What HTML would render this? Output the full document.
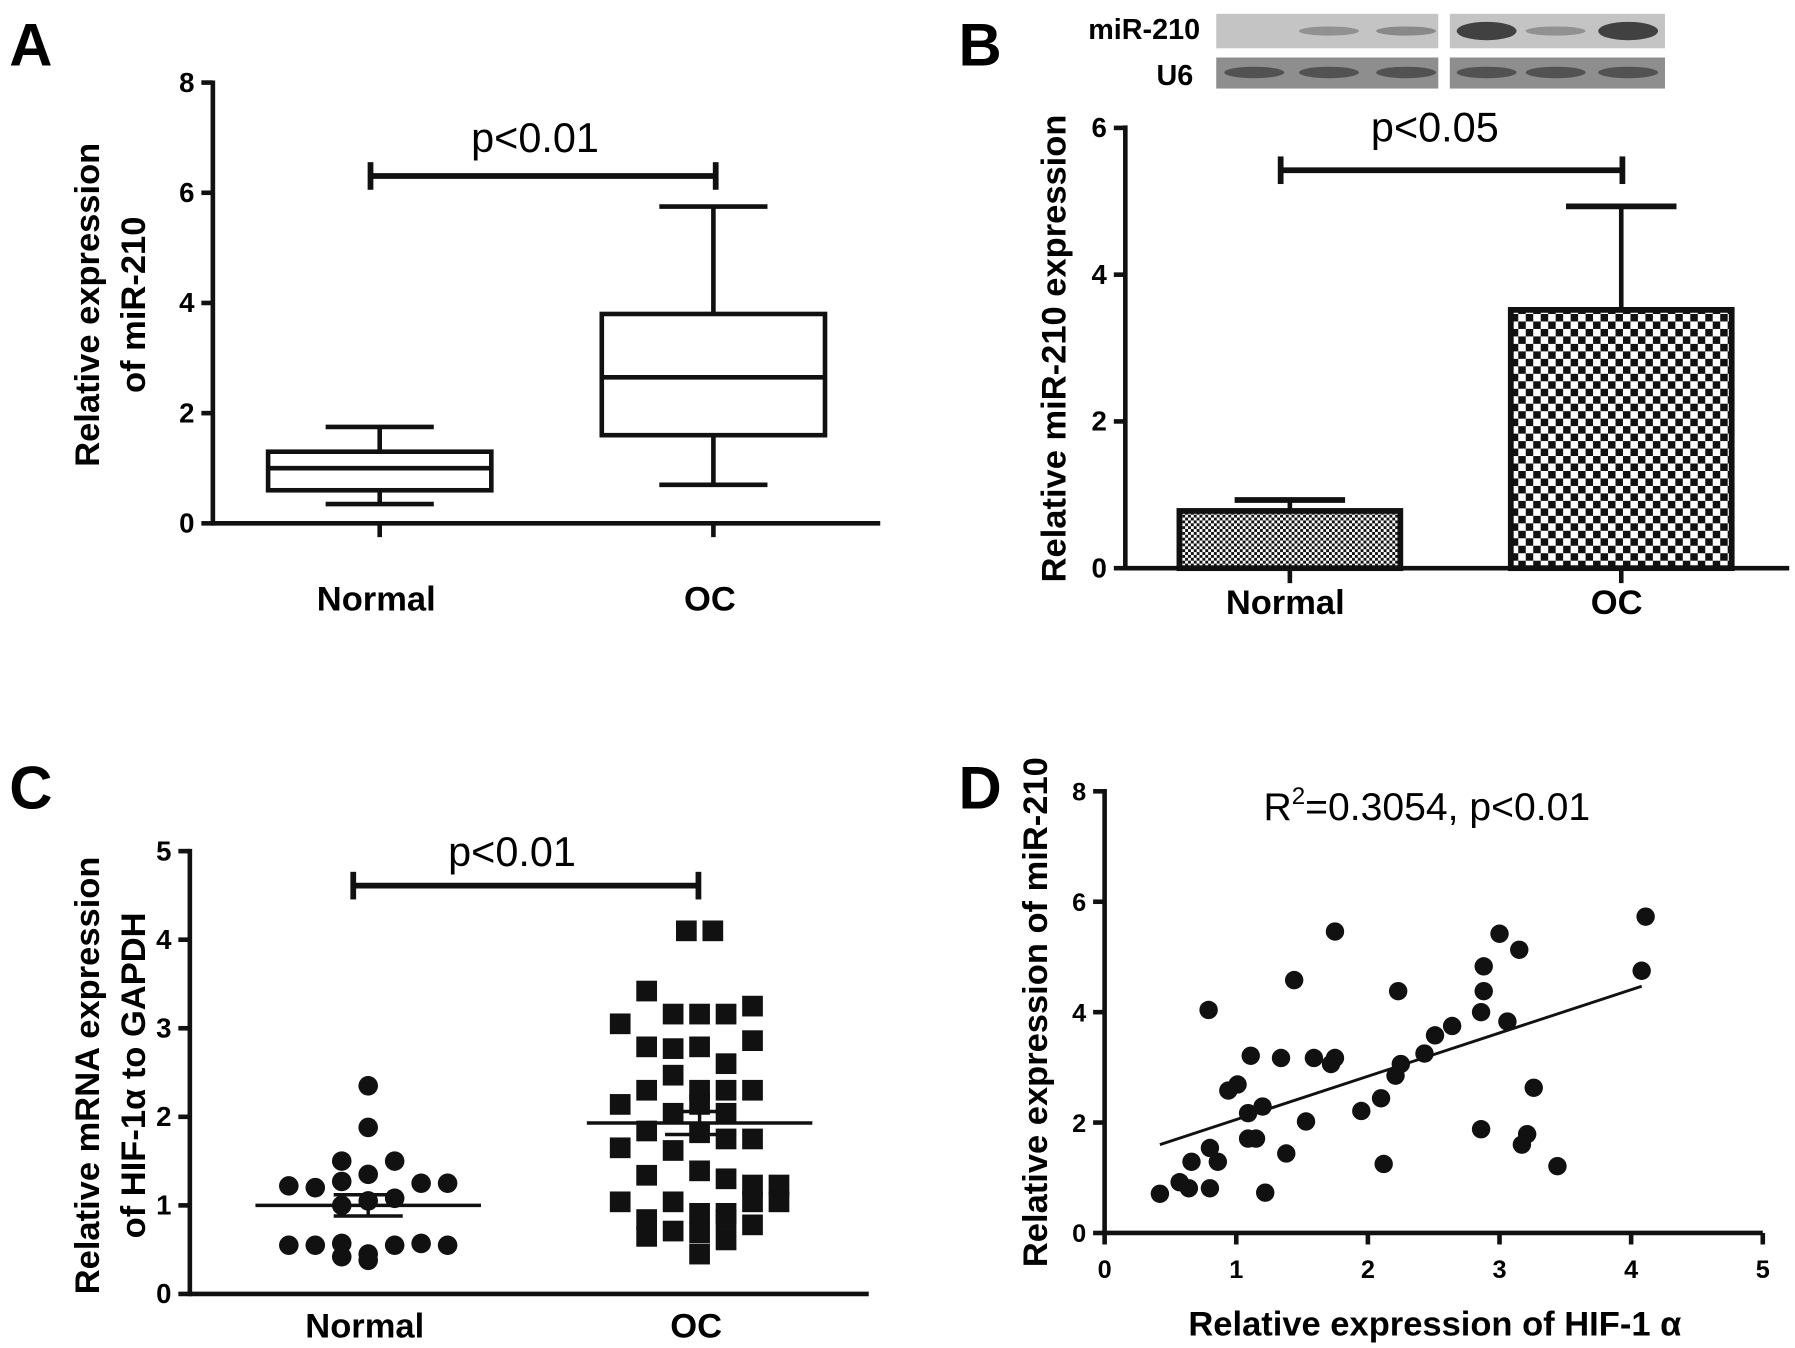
<!DOCTYPE html>
<html><head><meta charset="utf-8"><style>
html,body{margin:0;padding:0;background:#fff;}
svg{display:block;}
text{font-family:"Liberation Sans",Arial,sans-serif;}
.b{font-weight:bold;}
</style></head><body>
<svg id="fig" width="1795" height="1348" viewBox="0 0 1560 1172" preserveAspectRatio="none" xmlns="http://www.w3.org/2000/svg">
<defs>
<pattern id="fine" width="5" height="5" patternUnits="userSpaceOnUse"><rect width="5" height="5" fill="#fff"/><rect width="2.5" height="2.5" fill="#111"/><rect x="2.5" y="2.5" width="2.5" height="2.5" fill="#111"/></pattern>
<pattern id="coarse" width="13" height="13" patternUnits="userSpaceOnUse"><rect width="13" height="13" fill="#fff"/><rect width="6.5" height="6.5" fill="#111"/><rect x="6.5" y="6.5" width="6.5" height="6.5" fill="#111"/></pattern>
</defs>
<g id="pA"></g>
<g id="pB"></g>
<g id="pC"></g>
<g id="pD"></g>
</svg>
<script>
// Panel A box plot data
const aCats = ["Normal","OC"];
const aMin = [0.35, 0.7];
const aQ1 = [0.6, 1.6];
const aMed = [1.0, 2.65];
const aQ3 = [1.3, 3.8];
const aMax = [1.75, 5.75];
const aTicks = [0,2,4,6,8];
// Panel B bars
const bCats = ["Normal","OC"];
const bMean = [0.78, 3.52];
const bErr = [0.15, 1.41];
const bTicks = [0,2,4,6];
// Panel C scatter
const cTicks = [0,1,2,3,4,5];
const cNormalVals = [2.35,1.88,1.5,1.5,1.22,1.2,1.27,1.35,1.25,1.25,1.05,1.08,1.0,0.55,0.55,0.57,0.55,0.57,0.55,0.45,0.42,0.38];
const cNormalSlot = [0,0,-1,1,-3,-2,-1,0,2,3,0,1,-1,-3,-2,-1,1,2,3,0,-1,0];
const cOCVals = [4.1,4.1,3.42,3.05,3.16,3.16,3.16,3.25,2.86,2.79,2.77,2.79,2.6,2.47,2.3,2.3,2.3,2.14,2.3,2.04,2.14,2.04,1.84,1.82,1.75,1.75,1.65,1.62,1.34,1.39,1.3,1.23,1.23,1.04,1.04,1.04,1.04,0.84,0.91,0.91,0.71,0.65,0.69,0.84,0.78,0.61,0.45];
const cOCSlot = [-0.5,0.5,-2,-3,-1,0,1,2,2,-2,-1,0,1,-1,0,1,-2,-3,2,-1,0,1,-2,0,1,2,-3,-1,-2,0,1,2,3,3,2,-3,-1,-2,0,1,-1,-2,0,1,2,1,0];
const cMeans = [1.0, 1.93];
const cSem = [0.12, 0.13];
// Panel D scatter
const dX = [0.42,0.57,0.64,0.66,0.80,0.80,0.86,0.79,0.94,1.01,1.11,1.09,1.09,1.15,1.20,1.22,1.34,1.38,1.44,1.53,1.59,1.72,1.75,1.75,1.95,2.10,2.12,2.21,2.23,2.25,2.43,2.51,2.64,2.86,2.86,2.88,2.88,3.0,3.06,3.15,3.21,3.17,3.26,3.44,4.08,4.11];
const dY = [0.71,0.92,0.81,1.29,0.81,1.54,1.29,4.04,2.58,2.69,3.21,2.17,1.71,1.71,2.29,0.73,3.17,1.44,4.58,2.02,3.17,3.06,3.17,5.46,2.21,2.44,1.25,2.85,4.38,3.06,3.25,3.58,3.75,1.88,4.0,4.38,4.83,5.42,3.83,5.13,1.79,1.6,2.63,1.21,4.75,5.73];
const dFit = [[0.42,1.6],[4.08,4.47]];
const dXTicks = [0,1,2,3,4,5];
const dYTicks = [0,2,4,6,8];

const NS="http://www.w3.org/2000/svg";
function mk(parent,tag,attrs,txt){const e=document.createElementNS(NS,tag);for(const k in attrs)e.setAttribute(k,attrs[k]);if(txt!==undefined)e.textContent=txt;parent.appendChild(e);return e;}
function line(p,x1,y1,x2,y2,w){return mk(p,"line",{x1,y1,x2,y2,stroke:"#111","stroke-width":w||4,"stroke-linecap":"butt"});}

function yAxis(p,x,y0,y1,ticks,scale,fs){
  const ax=line(p,x,y0+2,x,y1-2,4);
  
  
  ticks.forEach(t=>{const y=scale(t);line(p,x-10,y,x,y,4);
    const tl=mk(p,"text",{x:x-16,y:y+8,"text-anchor":"end","font-size":fs||24,class:"b"},t);
    
    });
}
function bracket(p,x1,x2,y,label,lx,ly){
  const g=mk(p,"g",{});
  
  
  line(g,x1,y,x2,y,5);line(g,x1,y-12,x1,y+12,5);line(g,x2,y-12,x2,y+12,5);
  mk(g,"text",{x:lx,y:ly,"text-anchor":"middle","font-size":36},label);
}
function rotText(p,x,y,lines,fs,name){
  const t=mk(p,"text",{transform:`translate(${x},${y}) rotate(-90)`,"text-anchor":"middle","font-size":fs,class:"b"});
  
  
  lines.forEach((s,i)=>{const ts=mk(t,"tspan",{x:0,dy:i?40:0});ts.innerHTML=s;});
}
function panelLetter(p,ch,x,y){const t=mk(p,"text",{x,y,"font-size":52,class:"b"},ch);
  
  }

// ---------- Panel A ----------
(function(){
  const p=document.getElementById("pA");
  const ay=v=>455-v*47.9; const cx=[330,620];
  panelLetter(p,"A",8,57);
  yAxis(p,185,455,72,aTicks,ay);
  line(p,185,455,765,455,4);
  cx.forEach(x=>line(p,x,455,x,467,4));
  aCats.forEach((c,i)=>{
    const g=mk(p,"g",{});
    
    
    const x=cx[i];
    mk(g,"rect",{x:x-97,y:ay(aQ3[i]),width:194,height:ay(aQ1[i])-ay(aQ3[i]),fill:"none",stroke:"#111","stroke-width":4});
    line(g,x-97,ay(aMed[i]),x+97,ay(aMed[i]),4);
    line(g,x,ay(aQ3[i]),x,ay(aMax[i]),4);line(g,x,ay(aQ1[i]),x,ay(aMin[i]),4);
    line(g,x-47,ay(aMax[i]),x+47,ay(aMax[i]),4);line(g,x-47,ay(aMin[i]),x+47,ay(aMin[i]),4);
    const t=mk(p,"text",{x:x-3,y:531,"text-anchor":"middle","font-size":30,class:"b"},c);
    
    
  });
  bracket(p,322,622,153,"p<0.01",465,132);
  rotText(p,86,265,["Relative expression","of miR-210"],30,"y-axis-title");
})();

// ---------- Panel B ----------
(function(){
  const p=document.getElementById("pB");
  const by=v=>494-v*63.8; const cx=[1121,1409];
  panelLetter(p,"B",833,57);
  const bl=mk(p,"g",{});
  
  
  mk(bl,"text",{x:1043,y:34,"text-anchor":"end","font-size":25,class:"b"},"miR-210");
  mk(bl,"text",{x:1037,y:74,"text-anchor":"end","font-size":25,class:"b"},"U6");
  [[1057,1250],[1260,1447]].forEach(([a,b])=>{
    mk(bl,"rect",{x:a,y:12,width:b-a,height:30,fill:"#c4c4c4"});
    mk(bl,"rect",{x:a,y:50,width:b-a,height:27,fill:"#8e8e8e"});
  });
  const mirI=[0,0.35,0.4,0.9,0.35,0.9]; const bx=[1090,1155,1222,1292,1352,1415];
  bx.forEach((x,i)=>{ if(mirI[i]>0) mk(bl,"ellipse",{cx:x,cy:27,rx:26,ry:mirI[i]>0.5?8:4,fill:"#333","fill-opacity":mirI[i]});
    mk(bl,"ellipse",{cx:x,cy:63,rx:26,ry:5,fill:"#444","fill-opacity":0.8});});
  yAxis(p,978,494,111,bTicks,by);
  line(p,978,494,1555,494,4);
  cx.forEach(x=>line(p,x,494,x,507,4));
  bCats.forEach((c,i)=>{
    const g=mk(p,"g",{});
    
    
    const x=cx[i];
    line(g,x,by(bMean[i]),x,by(bMean[i]+bErr[i]),4);
    line(g,x-48,by(bMean[i]+bErr[i]),x+48,by(bMean[i]+bErr[i]),5);
    mk(g,"rect",{x:x-96,y:by(bMean[i]),width:192,height:494-by(bMean[i]),fill:i?"url(#coarse)":"url(#fine)",stroke:"#111","stroke-width":5});
    const t=mk(p,"text",{x:x-4,y:534,"text-anchor":"middle","font-size":30,class:"b"},c);
    
    
  });
  bracket(p,1113,1410,148,"p<0.05",1247,123);
  rotText(p,926,303,["Relative miR-210 expression"],30,"y-axis-title");
})();

// ---------- Panel C ----------
(function(){
  const p=document.getElementById("pC");
  const cy=v=>1125-v*77; const cx=[320,608]; const slot=23;
  panelLetter(p,"C",8,703);
  yAxis(p,165,1125,740,cTicks,cy);
  line(p,165,1125,755,1125,4);
  cNormalVals.forEach((v,i)=>{
    const c=mk(p,"circle",{cx:cx[0]+cNormalSlot[i]*slot,cy:cy(v),r:8.5,fill:"#111"});
    
    
  });
  cOCVals.forEach((v,i)=>{
    const r=mk(p,"rect",{x:cx[1]+cOCSlot[i]*slot-9,y:cy(v)-9,width:18,height:18,fill:"#111"});
    
    
  });
  [0,1].forEach(i=>{
    const m=mk(p,"line",{x1:cx[i]-98,x2:cx[i]+98,y1:cy(cMeans[i]),y2:cy(cMeans[i]),stroke:"#111","stroke-width":3});
    
    
    line(p,cx[i],cy(cMeans[i]-cSem[i]),cx[i],cy(cMeans[i]+cSem[i]),3);
    line(p,cx[i]-30,cy(cMeans[i]-cSem[i]),cx[i]+30,cy(cMeans[i]-cSem[i]),3);
    line(p,cx[i]-30,cy(cMeans[i]+cSem[i]),cx[i]+30,cy(cMeans[i]+cSem[i]),3);
  });
  ["Normal","OC"].forEach((c,i)=>{const t=mk(p,"text",{x:cx[i]-3,y:1163,"text-anchor":"middle","font-size":30,class:"b"},c);
    
    });
  bracket(p,307,607,770,"p<0.01",445,753);
  rotText(p,86,935,["Relative mRNA expression","of HIF-1&#945; to GAPDH"],30,"y-axis-title");
})();

// ---------- Panel D ----------
(function(){
  const p=document.getElementById("pD");
  const dx=v=>960+v*114.4; const dy=v=>1072-v*48;
  panelLetter(p,"D",833,703);
  yAxis(p,960,1072,688,dYTicks,dy,22);
  line(p,958,1072,1532,1072,4);
  dXTicks.forEach(t=>{line(p,dx(t),1072,dx(t),1082,4);
    const tl=mk(p,"text",{x:dx(t),y:1111,"text-anchor":"middle","font-size":22,class:"b"},t);
    
    });
  dX.forEach((x,i)=>{
    const c=mk(p,"circle",{cx:dx(x),cy:dy(dY[i]),r:8,fill:"#111"});
    
    
  });
  const f=mk(p,"line",{x1:dx(dFit[0][0]),y1:dy(dFit[0][1]),x2:dx(dFit[1][0]),y2:dy(dFit[1][1]),stroke:"#111","stroke-width":2.5});
  
  
  const r=mk(p,"text",{x:1240,y:713,"text-anchor":"middle","font-size":34});
  
  
  r.innerHTML='R<tspan dy="-14" font-size="21">2</tspan><tspan dy="14">=0.3054, p&lt;0.01</tspan>';
  const xt=mk(p,"text",{x:1247,y:1161,"text-anchor":"middle","font-size":30,class:"b"},"Relative expression of HIF-1 \u03b1");
  
  
  rotText(p,910,880,["Relative expression of miR-210"],30,"y-axis-title");
})();
</script>
</body></html>
